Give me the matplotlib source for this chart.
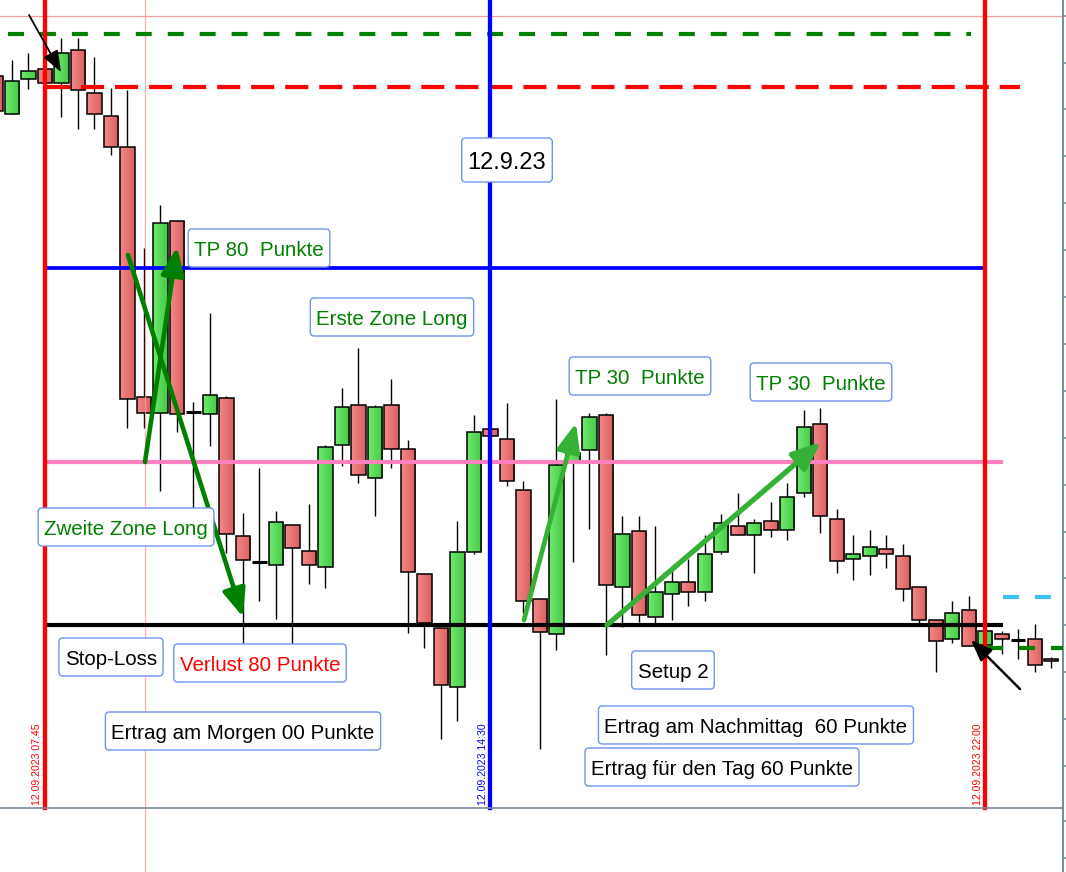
import numpy as np
import matplotlib
matplotlib.use('Agg')
import matplotlib.pyplot as plt
from matplotlib.patches import Rectangle, FancyBboxPatch
from matplotlib.colors import LinearSegmentedColormap
from matplotlib.transforms import IdentityTransform

plt.rcParams['font.family'] = ['Liberation Sans', 'DejaVu Sans']
plt.rcParams['lines.scale_dashes'] = False

# --- 15-min Kerzen 12.09.2023, Index 0 = 07:00 -----------------------------
opens = [15924, 15886, 15921, 15931, 15917, 15950, 15907, 15884, 15853, 15603,
         15587, 15779, 15588, 15586, 15602, 15464, 15438, 15435, 15475, 15449,
         15433, 15555, 15595, 15522, 15595, 15551, 15426, 15372, 15313, 15448,
         15571, 15561, 15510, 15401, 15366, 15539, 15550, 15585, 15413, 15469,
         15383, 15406, 15418, 15408, 15448, 15474, 15465, 15479, 15470, 15507,
         15576, 15481, 15441, 15444, 15451, 15444, 15413, 15380, 15361, 15390,
         15355, 15366, 15360, 15361, 15341]
highs = [15924, 15940, 15947, 15931, 15962, 15962, 15943, 15912, 15910, 15752,
         15795, 15779, 15598, 15687, 15604, 15487, 15532, 15489, 15475, 15496,
         15555, 15612, 15652, 15595, 15621, 15560, 15426, 15372, 15479, 15585,
         15571, 15597, 15519, 15401, 15601, 15547, 15587, 15587, 15484, 15484,
         15474, 15429, 15441, 15465, 15486, 15507, 15481, 15498, 15517, 15590,
         15592, 15491, 15465, 15470, 15465, 15456, 15413, 15380, 15399, 15404,
         15369, 15369, 15371, 15376, 15343]
lows = [15889, 15886, 15911, 15917, 15883, 15871, 15871, 15845, 15572, 15572,
        15509, 15568, 15481, 15554, 15447, 15357, 15399, 15381, 15348, 15416,
        15412, 15534, 15517, 15484, 15532, 15367, 15352, 15261, 15279, 15446,
        15564, 15514, 15387, 15251, 15350, 15438, 15471, 15345, 15373, 15378,
        15377, 15380, 15394, 15399, 15446, 15465, 15427, 15463, 15460, 15503,
        15467, 15427, 15420, 15425, 15432, 15399, 15377, 15328, 15357, 15354,
        15355, 15346, 15341, 15328, 15332]
closes = [15889, 15919, 15929, 15917, 15947, 15910, 15886, 15853, 15601, 15587,
          15777, 15586, 15588, 15605, 15466, 15440, 15438, 15478, 15452, 15435,
          15553, 15593, 15525, 15593, 15551, 15428, 15377, 15315, 15448, 15568,
          15564, 15519, 15399, 15368, 15535, 15547, 15583, 15415, 15466, 15385,
          15408, 15418, 15408, 15446, 15477, 15465, 15477, 15470, 15503, 15573,
          15484, 15439, 15446, 15453, 15446, 15411, 15380, 15359, 15387, 15354,
          15369, 15361, 15360, 15335, 15339]

# --- Zeitmarken ------------------------------------------------------------
marker_idx = [3, 30, 60]
marker_labels = ['12.09.2023 07:45', '12.09.2023 14:30', '12.09.2023 22:00']
marker_colors = ['#ff0000', '#0000ff', '#ff0000']

# --- Niveaus ---------------------------------------------------------------
LVL_TOP_GREEN = 15966
LVL_RED = 15913
LVL_TP80 = 15732
LVL_ZONE = 15538
LVL_SL = 15375
LVL_LIGHTBLUE = 15403
LVL_GREEN_LOW = 15352

W = 0.85
X0, X1 = 0.2727, 64.68
Y0, Y1 = 15128, 16000
AX_W = 1062.7 / 1066


def main():
    fig = plt.figure(figsize=(10.66, 8.72), dpi=100)
    ax = fig.add_axes([0, 0, AX_W, 1])

    cm_green = LinearSegmentedColormap.from_list('g', ['#70ea70', '#46c846'])
    cm_red = LinearSegmentedColormap.from_list('r', ['#f58888', '#d86060'])
    grad = np.linspace(0, 1, 32).reshape(1, -1)

    for i, (o, h, l, c) in enumerate(zip(opens, highs, lows, closes)):
        ax.vlines(i, l, h, color='black', lw=1.0, zorder=2)
        if o == c:
            ax.hlines(o, i - W / 2, i + W / 2, color='black', lw=2.2, zorder=3)
            continue
        lo, hi = min(o, c), max(o, c)
        rect = Rectangle((i - W / 2, lo), W, hi - lo, fc='none',
                         ec='black', lw=1.1, zorder=4)
        ax.add_patch(rect)
        im = ax.imshow(grad, extent=[i - W / 2, i + W / 2, lo, hi],
                       aspect='auto', cmap=cm_green if c > o else cm_red,
                       zorder=3, interpolation='bilinear')
        im.set_clip_path(rect)

    # Fadenkreuz
    ax.axhline(15984, color='#ff9a9a', lw=0.9, zorder=1)
    ax.axvline(9.06, color='#ff9a9a', lw=0.9, zorder=5, alpha=0.8)

    # horizontale Linien
    ax.hlines(LVL_TOP_GREEN, 0.76, 59.1, color='#008000', lw=3.0,
              linestyles=[(0, (11.5, 11.5))], zorder=6)
    ax.hlines(LVL_RED, 3.12, 62.1, color='#ff0000', lw=3.0,
              linestyles=[(0, (16.6, 7.9))], zorder=6)
    ax.hlines(LVL_TP80, 3, 60, color='#0000ff', lw=2.7, zorder=6)
    ax.hlines(LVL_ZONE, 3, 61.06, color='#ff80c0', lw=3.0, zorder=6)
    ax.hlines(LVL_SL, 3, 61.06, color='black', lw=3.0, zorder=6)
    ax.hlines(LVL_LIGHTBLUE, 61.06, 65, color='#40c0f8', lw=3.0,
              linestyles=[(0, (11.5, 11.5))], zorder=6)
    ax.hlines(LVL_GREEN_LOW, 60.1, 65, color='#008000', lw=3.0,
              linestyles=[(0, (11.5, 11.5))], zorder=6)

    # vertikale Zeitlinien + Datum
    y_frac = (872 - 808) / 872
    for idx, lab, col in zip(marker_idx, marker_labels, marker_colors):
        ax.axvline(idx, ymin=y_frac, ymax=1, color=col, lw=3.1, zorder=7)
        ax.text(idx - 0.48, 15195, lab, rotation=90, ha='center',
                va='bottom', color=col, fontsize=7.6, zorder=8)

    ax.axhline(15192, color='#7a8a96', lw=1.2, zorder=7)

    # Pfeile
    def arrow(x0, y0, x1, y1, col, lw, hl=1.7, hw=0.7):
        ax.annotate('', xy=(x1, y1), xytext=(x0, y0), zorder=9,
                    arrowprops=dict(arrowstyle=f'-|>,head_length={hl},'
                                    f'head_width={hw}', color=col, lw=lw,
                                    shrinkA=0, shrinkB=0, mutation_scale=10))

    arrow(8.03, 15745, 15.0, 15383, '#008000', 3.3)
    arrow(9.06, 15538, 11.0, 15753, '#008000', 3.3)
    arrow(32.03, 15380, 35.18, 15577, '#36b036', 3.4)
    arrow(37.06, 15375, 50.03, 15558, '#36b036', 3.8)
    arrow(2.03, 15985, 3.97, 15928, 'black', 1.3, 1.3, 0.5)
    arrow(62.09, 15311, 59.12, 15360, 'black', 1.8, 1.3, 0.5)

    # Beschriftungen
    labels = [
        (31.0, 15839, '12.9.23', 'black', 17),
        (15.97, 15751, 'TP 80  Punkte', '#008000', 14.8),
        (24.03, 15682, 'Erste Zone Long', '#008000', 14.8),
        (39.06, 15623, 'TP 30  Punkte', '#008000', 14.8),
        (50.03, 15617, 'TP 30  Punkte', '#008000', 14.8),
        (7.91, 15472, 'Zweite Zone Long', '#008000', 14.8),
        (7.0, 15342, 'Stop-Loss', 'black', 14.8),
        (16.03, 15336, 'Verlust 80 Punkte', '#ff0000', 14.8),
        (41.06, 15329, 'Setup 2', 'black', 14.8),
        (15.0, 15268, 'Ertrag am Morgen 00 Punkte', 'black', 14.8),
        (46.09, 15274, 'Ertrag am Nachmittag  60 Punkte', 'black', 14.8),
        (44.03, 15232, 'Ertrag für den Tag 60 Punkte', 'black', 14.8),
    ]
    ax.set_xlim(X0, X1)
    ax.set_ylim(Y0, Y1)
    texts = []
    for x, y, s, col, fs in labels:
        texts.append(ax.text(x, y, s, color=col, fontsize=fs, ha='center',
                             va='center_baseline', zorder=11))
    fig.canvas.draw()
    renderer = fig.canvas.get_renderer()
    for t, (x, y, s, col, fs) in zip(texts, labels):
        bb = t.get_window_extent(renderer)
        cx, cy = ax.transData.transform((x, y))
        bw = bb.width + 12
        bh = 44 if fs > 16 else 38
        ax.add_patch(FancyBboxPatch((cx - bw / 2, cy - bh / 2 + 1), bw, bh,
                                    boxstyle='round,pad=0,rounding_size=4',
                                    fc='white', ec='#6f94ea', lw=1.0,
                                    transform=IdentityTransform(),
                                    zorder=10))

    for side in ('left', 'top', 'bottom'):
        ax.spines[side].set_visible(False)
    ax.spines['right'].set_color('#78909c')
    ax.spines['right'].set_linewidth(1.5)
    ax.set_xticks([])
    ticks = list(np.arange(15984.3, 15220, -46.9)) + [15179, 15142]
    ax.yaxis.tick_right()
    ax.set_yticks(ticks)
    ax.set_yticklabels([])
    ax.tick_params(axis='y', direction='out', length=3, width=1.2,
                   color='#78909c')

    fig.savefig('out.png', dpi=100)


if __name__ == '__main__':
    main()
